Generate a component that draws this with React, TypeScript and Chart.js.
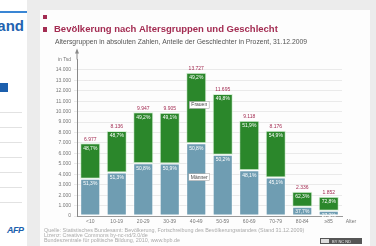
import React, { useEffect, useRef } from 'react';
import { Chart, registerables } from 'chart.js';

Chart.register(...registerables);

const categories = ['<10', '10-19', '20-29', '30-39', '40-49', '50-59', '60-69', '70-79', '80-84', '≥85'];
const totals = [6977, 8136, 9947, 9905, 13727, 11695, 9118, 8176, 2336, 1852];
const malePct = [51.3, 51.3, 50.8, 50.9, 50.8, 50.2, 48.1, 45.1, 37.7, 27.2];
const femalePct = [48.7, 48.7, 49.2, 49.1, 49.2, 49.8, 51.9, 54.9, 62.3, 72.8];
const yMax = 15000;
const yStep = 1000;
const yUnitLabel = 'in Tsd';
const xAxisTitle = 'Alter';
const titleText = 'Bevölkerung nach Altersgruppen und Geschlecht';
const subtitleText = 'Altersgruppen in absoluten Zahlen, Anteile der Geschlechter in Prozent, 31.12.2009';
const sourceLines = [
  'Quelle: Statistisches Bundesamt: Bevölkerung, Fortschreibung des Bevölkerungsstandes (Stand 31.12.2009)',
  'Lizenz: Creative Commons by-nc-nd/3.0/de',
  'Bundeszentrale für politische Bildung, 2010, www.bpb.de',
];
const maleLabel = 'Männer';
const femaleLabel = 'Frauen';
const annotatedIndex = 4;

const maleValues = totals.map((t, i) => (t * malePct[i]) / 100);
const femaleValues = totals.map((t, i) => (t * femalePct[i]) / 100);

const GREEN = '#2b872b';
const BLUE = '#6f9db2';
const RED = '#a32c52';
const FONT = '"Liberation Sans", Arial, sans-serif';

function fmt(n: number): string {
  const s = String(Math.round(n));
  return s.replace(/\B(?=(\d{3})+(?!\d))/g, '.');
}
function pct(n: number): string {
  return n.toFixed(1).replace('.', ',') + '%';
}

const decoPlugin = {
  id: 'deco',
  afterDraw(chart: any) {
    const ctx = chart.ctx;
    const area = chart.chartArea;
    ctx.save();
    ctx.fillStyle = RED;
    ctx.fillRect(3, 5, 4, 4);
    ctx.fillRect(3, 17, 4, 5);
    ctx.fillStyle = RED;
    ctx.font = `bold 9.5px ${FONT}`;
    ctx.textAlign = 'left';
    ctx.textBaseline = 'alphabetic';
    ctx.fillText(titleText, 14, 22);
    ctx.fillStyle = '#555';
    ctx.font = `6.8px ${FONT}`;
    ctx.fillText(subtitleText, 15, 34);
    ctx.fillStyle = '#aaa';
    ctx.font = `5.4px ${FONT}`;
    sourceLines.forEach((l, i) => ctx.fillText(l, 4, 222 + i * 5));
    ctx.fillStyle = '#555';
    ctx.fillRect(280, 228, 42, 6);
    ctx.fillStyle = '#ddd';
    ctx.fillRect(281, 229, 8, 4);
    ctx.fillStyle = '#eee';
    ctx.font = `4px ${FONT}`;
    ctx.fillText('BY NC ND', 292, 232.5);
    const ax = area.left;
    ctx.strokeStyle = '#888';
    ctx.lineWidth = 1;
    ctx.beginPath();
    ctx.moveTo(ax, area.top);
    ctx.lineTo(ax, area.top - 9);
    ctx.stroke();
    ctx.fillStyle = '#888';
    ctx.beginPath();
    ctx.moveTo(ax, area.top - 11);
    ctx.lineTo(ax - 2, area.top - 6);
    ctx.lineTo(ax + 2, area.top - 6);
    ctx.closePath();
    ctx.fill();
    ctx.fillStyle = '#777';
    ctx.font = `5px ${FONT}`;
    ctx.textAlign = 'center';
    ctx.textBaseline = 'top';
    ctx.fillText(xAxisTitle, area.right + 9, area.bottom + 3);
    const mMeta = chart.getDatasetMeta(0);
    const fMeta = chart.getDatasetMeta(1);
    ctx.textAlign = 'center';
    ctx.textBaseline = 'middle';
    categories.forEach((_, i) => {
      const m = mMeta.data[i];
      const f = fMeta.data[i];
      ctx.font = `5px ${FONT}`;
      ctx.fillStyle = '#fff';
      ctx.fillText(pct(malePct[i]), m.x, m.y + 5);
      ctx.fillText(pct(femalePct[i]), f.x, f.y + 5);
      ctx.fillStyle = RED;
      ctx.fillText(fmt(totals[i]), f.x, f.y - 4);
    });
    const drawBox = (text: string, x: number, y: number) => {
      ctx.font = `5px ${FONT}`;
      const w = ctx.measureText(text).width + 4;
      ctx.fillStyle = '#fff';
      ctx.fillRect(x - w / 2, y - 3.5, w, 7);
      ctx.strokeStyle = '#999';
      ctx.lineWidth = 0.5;
      ctx.strokeRect(x - w / 2, y - 3.5, w, 7);
      ctx.fillStyle = '#444';
      ctx.fillText(text, x, y);
    };
    const fa = fMeta.data[annotatedIndex];
    const ma = mMeta.data[annotatedIndex];
    drawBox(femaleLabel, fa.x + 3, (fa.y + fa.base) / 2 - 3);
    drawBox(maleLabel, ma.x + 3, ma.y + 34);
    ctx.restore();
  },
};

export default function App() {
  const ref = useRef<HTMLCanvasElement>(null);
  useEffect(() => {
    if (!ref.current) return;
    const chart = new Chart(ref.current, {
      type: 'bar',
      data: {
        labels: categories,
        datasets: [
          {
            label: maleLabel,
            data: maleValues,
            backgroundColor: BLUE,
            borderColor: 'rgba(255,255,255,0.45)',
            borderWidth: 1,
            borderSkipped: false,
            barPercentage: 0.76,
            categoryPercentage: 1,
          },
          {
            label: femaleLabel,
            data: femaleValues,
            backgroundColor: GREEN,
            borderColor: 'rgba(200,235,200,0.7)',
            borderWidth: 1,
            borderSkipped: false,
            barPercentage: 0.76,
            categoryPercentage: 1,
          },
        ],
      },
      options: {
        animation: false,
        responsive: false,
        maintainAspectRatio: false,
        devicePixelRatio: 1,
        layout: { padding: { top: 49.5, right: 28, bottom: 18, left: 0 } },
        plugins: { legend: { display: false }, tooltip: { enabled: false }, title: { display: false } },
        scales: {
          x: {
            stacked: true,
            grid: { display: false, drawTicks: false },
            border: { display: true, color: '#999' },
            ticks: { color: '#777', font: { size: 5, family: FONT }, padding: 3, maxRotation: 0, autoSkip: false },
            afterFit: (s: any) => { s.height = 12; },
          },
          y: {
            stacked: true,
            min: 0,
            max: yMax,
            grid: {
              color: (c: any) => (c.tick && c.tick.value === yMax ? 'rgba(0,0,0,0)' : '#e4e4e4'),
              tickLength: 3,
              lineWidth: 0.8,
            },
            border: { display: true, color: '#888' },
            ticks: {
              stepSize: yStep,
              color: '#777',
              font: { size: 5, family: FONT },
              padding: 3,
              callback: (v: any) => (v === yMax ? yUnitLabel : fmt(v)),
            },
            afterFit: (s: any) => { s.width = 37; },
          },
        },
      },
      plugins: [decoPlugin],
    });
    return () => chart.destroy();
  }, []);

  const lines = [112, 127, 142, 157, 172, 187, 202];
  return (
    <div style={{ position: 'fixed', left: 0, top: 0, width: 376, height: 246, background: '#ececec', overflow: 'hidden', fontFamily: FONT }}>
      <div style={{ position: 'absolute', left: 0, top: 0, width: 27, height: 246, background: '#fff', overflow: 'hidden' }}>
        <div style={{ position: 'absolute', left: 0, top: 11, width: 27, height: 2, background: '#3a86d4' }} />
        <span style={{ position: 'absolute', right: 3, top: 17, whiteSpace: 'nowrap', fontWeight: 'bold', fontSize: 15, color: '#1f63b0' }}>Deutschland</span>
        <div style={{ position: 'absolute', left: 0, top: 83, width: 8, height: 9, background: '#1c5fad' }} />
        {lines.map((y) => (
          <div key={y} style={{ position: 'absolute', left: 0, top: y, width: 22, height: 1, background: '#e2e2e2' }} />
        ))}
        <span style={{ position: 'absolute', left: 7, top: 225, fontWeight: 'bold', fontStyle: 'italic', fontSize: 9, color: '#1c5fad', letterSpacing: -0.5 }}>AFP</span>
      </div>
      <div style={{ position: 'absolute', left: 40, top: 10, width: 330, height: 236, background: '#fdfdfd' }}>
        <canvas ref={ref} width={330} height={236} style={{ width: 330, height: 236, display: 'block' }} />
      </div>
    </div>
  );
}
